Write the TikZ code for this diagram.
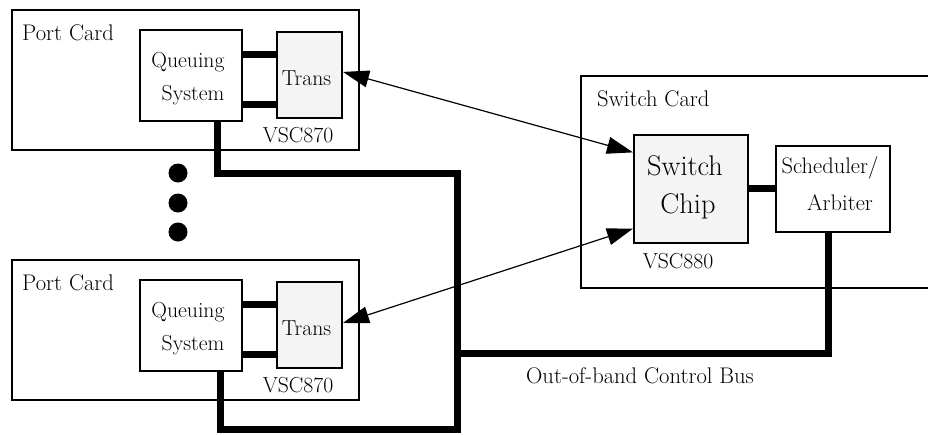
\documentclass[tikz,border=0pt]{standalone}
\usepackage{fontspec}
\usetikzlibrary{arrows.meta,calc}
\definecolor{chipgray}{RGB}{244,244,244}
\begin{document}
\begin{tikzpicture}[x=1pt,y=-1pt,
  box/.style={draw,line width=2pt,inner sep=0pt},
  lbl/.style={inner sep=0pt,anchor=base},
  cardfont/.style={font=\fontsize{22.6}{27}\selectfont},
  smallfont/.style={font=\fontsize{21.7}{26}\selectfont},
  chipfont/.style={font=\fontsize{28.4}{34}\selectfont},
  schedfont/.style={font=\fontsize{22.5}{27}\selectfont},
  bus/.style={line width=7pt},
  dotmark/.style={circle,fill,inner sep=0pt,minimum size=19pt},
  link/.style={line width=1.2pt,{Triangle[length=26pt,width=17pt]}-{Triangle[length=26pt,width=17pt]}}]
\useasboundingbox (0,0) rectangle (928,434);
\clip (0,0) rectangle (928,434);

% port card 1
\node[box,minimum width=347pt,minimum height=140pt] (pc1) at (185.5,80) {};
\node[box,minimum width=102pt,minimum height=91pt] (q1) at (191,75.5) {};
\node[box,fill=chipgray,minimum width=65pt,minimum height=86pt] (t1) at (309.5,75) {};
% port card 2
\node[box,minimum width=347pt,minimum height=140pt] (pc2) at (185.5,330) {};
\node[box,minimum width=102pt,minimum height=91pt] (q2) at (191,325.5) {};
\node[box,fill=chipgray,minimum width=65pt,minimum height=86pt] (t2) at (309.5,325) {};
% switch card
\node[box,minimum width=379pt,minimum height=212pt] (sc) at (770.5,182) {};
\node[box,fill=chipgray,minimum width=114pt,minimum height=108pt] (chip) at (691,189) {};
\node[box,minimum width=114pt,minimum height=86pt] (sched) at (833,189) {};

% texts
\node[lbl,anchor=base west,cardfont] (pc1l) at (22,40) {Port Card};
\node[lbl,smallfont] (q1a) at (188,67) {Queuing};
\node[lbl,smallfont] (q1b) at (193,100) {System};
\node[lbl,smallfont] (t1l) at (306.5,85) {Trans};
\node[lbl,smallfont] (v1) at (298,142) {VSC870};

\node[lbl,anchor=base west,cardfont] (pc2l) at (22,290) {Port Card};
\node[lbl,smallfont] (q2a) at (188,317) {Queuing};
\node[lbl,smallfont] (q2b) at (193,350) {System};
\node[lbl,smallfont] (t2l) at (306.5,335) {Trans};
\node[lbl,smallfont] (v2) at (298,392) {VSC870};

\node[lbl,anchor=base west,cardfont] (scl) at (597,106) {Switch Card};
\node[lbl,chipfont] (ch1) at (685,175) {Switch};
\node[lbl,chipfont] (ch2) at (688,213) {Chip};
\node[lbl,schedfont] (s1) at (830,173) {Scheduler/};
\node[lbl,schedfont] (s2) at (840,210) {Arbiter};
\node[lbl,smallfont] (v3) at (678,268) {VSC880};
\node[lbl,cardfont] (busl) at (640,383) {Out-of-band Control Bus};

% dots
\node[dotmark] (d1) at (178,173) {};
\node[dotmark] (d2) at (178,203) {};
\node[dotmark] (d3) at (178,232) {};

% thick links inside cards
\draw[bus] (q1.east |- 0,54) -- (t1.west |- 0,54);
\draw[bus] (q1.east |- 0,104) -- (t1.west |- 0,104);
\draw[bus] (q2.east |- 0,304) -- (t2.west |- 0,304);
\draw[bus] (q2.east |- 0,354) -- (t2.west |- 0,354);
\draw[bus] (chip.east |- 0,188) -- (sched.west |- 0,188);

% control bus
\coordinate (junc) at (457,353);
\draw[bus] (q1.south -| 217,0) -- (217,173) -- (457,173) -- (457,429) -- (220,429) -- (q2.south -| 220,0);
\draw[bus] (junc) -- (828,353) -- (sched.south -| 828,0);

% data links
\draw[link] ($(t1.north east)!0.465!(t1.south east)$) -- ($(chip.north west)!0.167!(chip.south west)$);
\draw[link] ($(t2.north east)!0.477!(t2.south east)$) -- ($(chip.north west)!0.86!(chip.south west)$);
\end{tikzpicture}
\end{document}
